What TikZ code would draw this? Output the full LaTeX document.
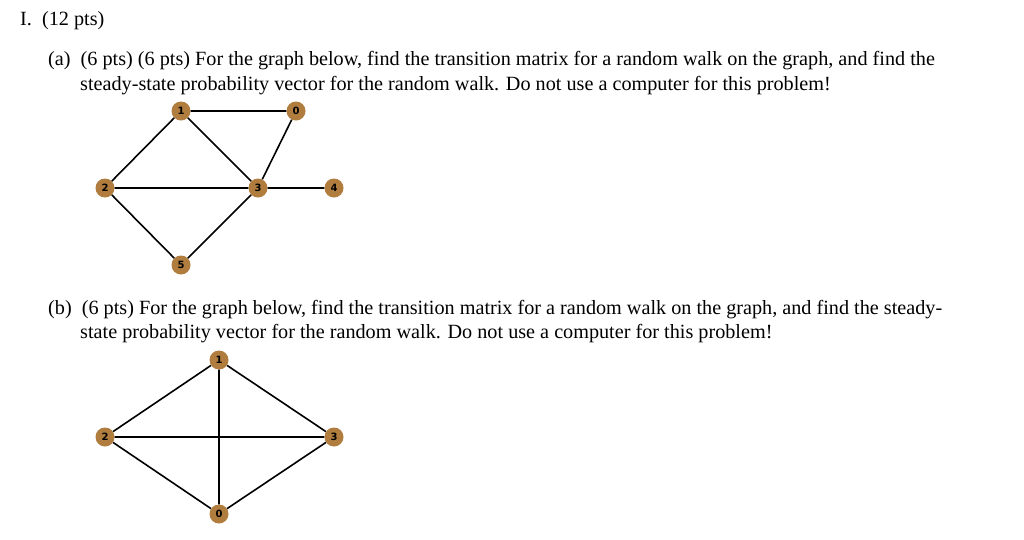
\documentclass[tikz,border=0pt]{standalone}
\usepackage{fontspec}
\setmainfont{Liberation Serif}
\newfontfamily\labfont{DejaVu Sans}
\definecolor{vtx}{HTML}{B07D3E}
\begin{document}
\begin{tikzpicture}[x=1pt,y=-1pt,
  v/.style={circle,fill=vtx,inner sep=0pt,minimum size=19pt,font=\labfont\bfseries\fontsize{10}{10}\selectfont},
  e/.style={line width=1.6pt},
  txt/.style={anchor=base west,inner sep=0pt,font=\fontsize{20.2}{24}\selectfont}]
\useasboundingbox (0,0) rectangle (1024,539);
\node[txt] (t0) at (20,25) {I.\ \ (12 pts)};
\node[txt] (a1) at (48,65) {(a)\ \ (6 pts) (6 pts) For the graph below, find the transition matrix for a random walk on the graph, and find the};
\node[txt] (a2) at (80,90) {steady-state probability vector for the random walk. Do not use a computer for this problem!};
\node[txt] (b1) at (48,314) {(b)\ \ (6 pts) For the graph below, find the transition matrix for a random walk on the graph, and find the steady-};
\node[txt] (b2) at (80,338) {state probability vector for the random walk. Do not use a computer for this problem!};
\node[v] (A1) at (181,111) {1};
\node[v] (A0) at (296,111) {0};
\node[v] (A2) at (105,188) {2};
\node[v] (A3) at (258,188) {3};
\node[v] (A4) at (334,188) {4};
\node[v] (A5) at (181,265) {5};
\draw[e] (A1)--(A0) (A1)--(A2) (A1)--(A3) (A0)--(A3) (A2)--(A3) (A3)--(A4) (A2)--(A5) (A3)--(A5);
\node[v] (B1) at (219,360) {1};
\node[v] (B2) at (105,437) {2};
\node[v] (B3) at (334,437) {3};
\node[v] (B0) at (219,514) {0};
\draw[e] (B1)--(B2) (B1)--(B3) (B1)--(B0) (B2)--(B3) (B2)--(B0) (B3)--(B0);
\end{tikzpicture}
\end{document}
